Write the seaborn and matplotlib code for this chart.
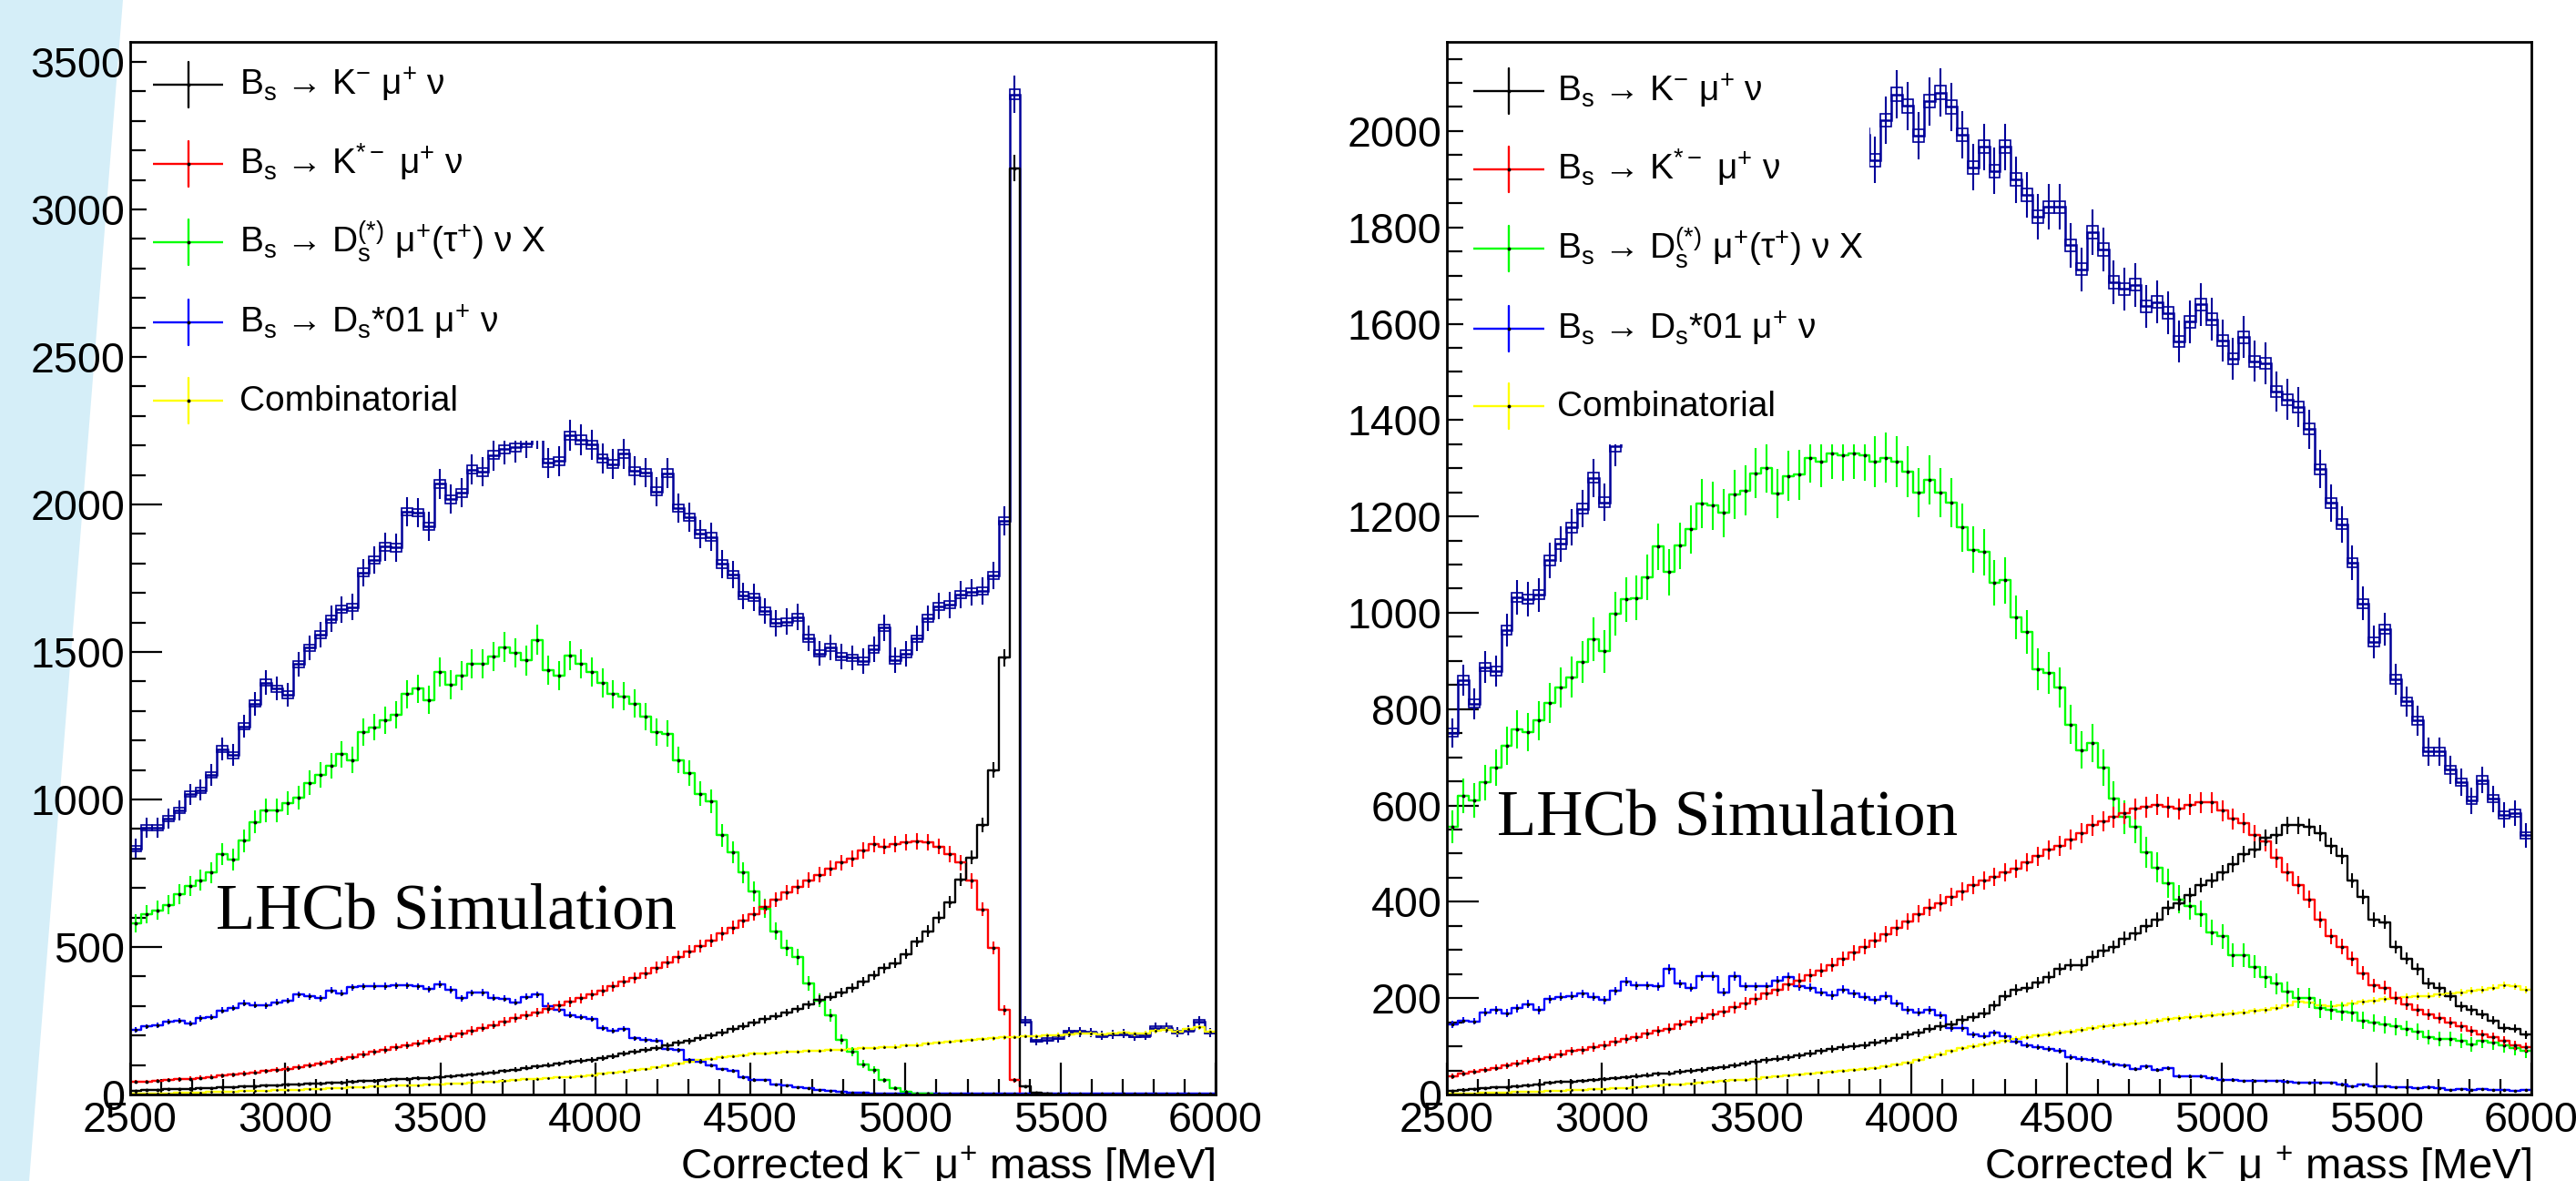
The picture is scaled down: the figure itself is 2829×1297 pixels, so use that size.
import numpy as np
import pandas as pd
import seaborn as sns
import matplotlib
matplotlib.use("Agg")
import matplotlib.pyplot as plt
from matplotlib.patches import Polygon, Rectangle
from matplotlib.ticker import MultipleLocator
from matplotlib.transforms import ScaledTranslation, blended_transform_factory

# ---------------------------------------------------------------- data
mass_edges = np.arange(2500, 6001, 35)          # 100 bins of 35 MeV
mass_centers = 0.5 * (mass_edges[:-1] + mass_edges[1:])

series_labels = [
    r"B$_{s}$ → K$^{-}$ μ$^{+}$ ν",
    r"B$_{s}$ → K$^{*-}$ μ$^{+}$ ν",
    r"B$_{s}$ → D$_{s}^{(*)}$ μ$^{+}$(τ$^{+}$) ν X",
    r"B$_{s}$ → D$_{s}$*01 μ$^{+}$ ν",
    "Combinatorial",
]

# ---- left panel
left_kmunu = [13, 15, 16, 17, 19, 20, 21, 22, 24, 25,
              27, 28, 30, 31, 33, 34, 36, 37, 39, 41,
              43, 45, 47, 49, 51, 53, 55, 57, 58, 61,
              64, 67, 72, 75, 80, 84, 90, 95, 100, 104,
              110, 114, 118, 124, 130, 138, 144, 152, 158, 166,
              175, 182, 192, 200, 210, 222, 232, 244, 255, 266,
              278, 290, 305, 321, 331, 345, 361, 382, 404, 428,
              446, 476, 517, 554, 600, 652, 727, 804, 913, 1100,
              1480, 3140, 28, 6, 3, 1, 1, 1, 0, 0,
              0, 0, 0, 0, 0, 0, 0, 0, 0, 0]
left_kstmunu = [42, 44, 46, 49, 51, 54, 57, 60, 64, 67,
                71, 75, 79, 83, 86, 92, 98, 105, 112, 120,
                128, 136, 144, 152, 160, 166, 174, 182, 188, 196,
                206, 216, 226, 236, 246, 258, 268, 278, 290, 302,
                314, 326, 338, 352, 366, 382, 396, 412, 430, 448,
                466, 484, 502, 522, 545, 566, 588, 612, 636, 660,
                684, 704, 726, 745, 766, 786, 800, 828, 848, 841,
                848, 855, 859, 855, 841, 814, 786, 724, 628, 497,
                286, 48, 0, 0, 0, 0, 0, 0, 0, 0,
                0, 0, 0, 0, 0, 0, 0, 0, 0, 0]
left_dsmunu = [580, 611, 624, 643, 680, 707, 726, 752, 815, 796,
               860, 924, 962, 962, 987, 1006, 1057, 1083, 1115, 1153,
               1134, 1229, 1245, 1268, 1287, 1357, 1376, 1338, 1433, 1389,
               1420, 1459, 1459, 1484, 1516, 1497, 1471, 1541, 1439, 1420,
               1487, 1459, 1433, 1395, 1357, 1350, 1325, 1280, 1229, 1223,
               1134, 1089, 1019, 994, 879, 822, 752, 688, 631, 554,
               497, 465, 376, 318, 269, 186, 145, 103, 83, 48,
               21, 10, 4, 2, 1, 0, 0, 0, 0, 0,
               0, 0, 0, 0, 0, 0, 0, 0, 0, 0,
               0, 0, 0, 0, 0, 0, 0, 0, 0, 0]
left_ds01munu = [219, 230, 236, 248, 250, 242, 258, 263, 285, 293,
                 310, 303, 302, 312, 318, 338, 332, 327, 353, 344,
                 363, 366, 367, 368, 369, 369, 366, 357, 373, 355,
                 327, 345, 346, 328, 325, 312, 331, 338, 300, 287,
                 270, 262, 255, 225, 217, 223, 190, 185, 183, 155,
                 150, 118, 110, 100, 85, 80, 60, 50, 48, 35,
                 32, 24, 22, 16, 12, 8, 6, 5, 4, 4,
                 3, 3, 3, 2, 2, 2, 2, 2, 2, 2,
                 2, 2, 2, 2, 2, 2, 2, 2, 2, 2,
                 2, 2, 2, 2, 2, 2, 2, 2, 2, 2]
left_comb = [2, 3, 3, 4, 5, 6, 7, 8, 9, 10,
             11, 12, 13, 14, 15, 16, 18, 19, 21, 22,
             24, 25, 27, 28, 30, 31, 32, 33, 34, 36,
             38, 40, 42, 44, 46, 48, 51, 54, 56, 58,
             60, 63, 66, 70, 74, 78, 82, 86, 92, 98,
             104, 110, 116, 120, 126, 130, 134, 138, 140, 142,
             144, 146, 148, 148, 150, 152, 154, 156, 158, 160,
             162, 166, 168, 172, 175, 178, 182, 185, 188, 190,
             193, 195, 198, 196, 200, 202, 205, 208, 206, 204,
             207, 210, 206, 208, 215, 220, 212, 222, 228, 214]
left_total = [834, 904, 904, 936, 962, 1018, 1032, 1083, 1171, 1150,
              1248, 1325, 1396, 1376, 1355, 1459, 1514, 1559, 1612, 1644,
              1652, 1770, 1811, 1857, 1854, 1975, 1972, 1926, 2070, 2018,
              2039, 2118, 2111, 2167, 2188, 2193, 2208, 2240, 2142, 2147,
              2234, 2219, 2203, 2157, 2137, 2172, 2114, 2108, 2044, 2106,
              1988, 1957, 1900, 1890, 1798, 1762, 1690, 1685, 1639, 1598,
              1603, 1618, 1546, 1495, 1515, 1485, 1480, 1469, 1510, 1582,
              1472, 1494, 1545, 1614, 1655, 1660, 1695, 1703, 1707, 1760,
              1945, 3390, 248, 182, 186, 192, 212, 212, 210, 200,
              204, 206, 198, 200, 226, 226, 212, 218, 248, 210]

# ---- right panel
right_kmunu = [7, 10, 11, 13, 15, 15, 17, 19, 21, 24,
               26, 27, 28, 30, 32, 34, 36, 38, 40, 43,
               44, 47, 49, 51, 54, 57, 60, 64, 68, 71,
               74, 77, 81, 85, 90, 94, 98, 101, 102, 107,
               111, 118, 124, 128, 137, 142, 145, 155, 160, 169,
               185, 205, 218, 222, 232, 243, 260, 269, 269, 286,
               299, 307, 324, 334, 350, 363, 388, 397, 414, 435,
               444, 461, 478, 499, 508, 533, 538, 559, 559, 555,
               542, 516, 495, 444, 410, 363, 358, 307, 282, 260,
               230, 222, 205, 183, 175, 166, 154, 138, 137, 124]
right_kstmunu = [38, 43, 47, 51, 55, 60, 64, 70, 74, 78,
                 84, 90, 92, 98, 102, 109, 115, 119, 126, 132,
                 137, 145, 152, 158, 166, 172, 181, 189, 198, 209,
                 218, 229, 237, 247, 258, 269, 282, 294, 307, 320,
                 333, 346, 360, 375, 388, 397, 410, 422, 435, 444,
                 452, 461, 469, 482, 495, 508, 516, 529, 542, 559,
                 567, 576, 584, 593, 597, 602, 597, 593, 602, 606,
                 606, 589, 572, 563, 538, 525, 491, 461, 435, 405,
                 363, 328, 307, 282, 252, 226, 222, 200, 188, 175,
                 166, 158, 149, 141, 132, 124, 119, 111, 102, 98]
right_dsmunu = [555, 620, 610, 648, 678, 724, 758, 753, 776, 813,
                845, 866, 898, 945, 920, 998, 1028, 1031, 1073, 1137,
                1084, 1139, 1173, 1227, 1222, 1207, 1246, 1254, 1290, 1301,
                1247, 1284, 1287, 1322, 1314, 1331, 1327, 1331, 1327, 1314,
                1322, 1314, 1293, 1250, 1276, 1250, 1229, 1177, 1131, 1126,
                1062, 1067, 990, 960, 883, 875, 845, 768, 715, 730,
                678, 614, 576, 555, 503, 471, 439, 405, 392, 375,
                337, 328, 290, 290, 265, 243, 230, 213, 200, 200,
                179, 175, 172, 171, 154, 149, 145, 141, 137, 130,
                119, 115, 115, 111, 104, 111, 107, 102, 96, 90]
right_ds01munu = [145, 154, 152, 171, 175, 169, 179, 188, 175, 198,
                  203, 205, 209, 203, 196, 215, 235, 226, 226, 224,
                  260, 230, 222, 246, 246, 212, 246, 224, 224, 224,
                  237, 243, 224, 222, 212, 206, 218, 209, 203, 196,
                  205, 189, 175, 171, 175, 164, 138, 138, 124, 121,
                  128, 121, 110, 102, 98, 94, 90, 77, 74, 72,
                  68, 62, 60, 53, 58, 51, 55, 38, 38, 38,
                  34, 30, 30, 28, 28, 28, 28, 27, 24, 24,
                  24, 24, 21, 17, 20, 17, 17, 15, 15, 13,
                  16, 13, 10, 12, 9, 12, 9, 10, 7, 10]
right_comb = [1, 2, 2, 3, 3, 4, 5, 6, 6, 7,
              8, 9, 10, 11, 12, 13, 14, 15, 17, 18,
              20, 21, 23, 25, 26, 28, 30, 31, 33, 35,
              37, 39, 41, 43, 45, 47, 49, 51, 53, 55,
              58, 62, 66, 72, 78, 84, 90, 96, 100, 104,
              108, 112, 116, 119, 122, 125, 128, 130, 134, 138,
              141, 143, 146, 148, 150, 153, 156, 158, 161, 163,
              165, 167, 169, 171, 173, 175, 180, 186, 192, 190,
              186, 183, 186, 189, 192, 195, 198, 200, 202, 204,
              205, 207, 209, 212, 215, 218, 222, 226, 224, 218]
nan = float("nan")
# nan = bins hidden behind the legend box in the picture (filled below
# with the sum of the components, which the total is)
right_total = [751, 860, 811, 887, 879, 964, 1032, 1028, 1037, 1109,
               1143, 1177, 1216, 1280, 1229, 1345, nan, nan, nan, nan,
               nan, nan, nan, nan, nan, nan, nan, nan, nan, nan,
               nan, nan, nan, nan, nan, nan, nan, nan, nan, 1940,
               2022, 2076, 2052, 1990, 2062, 2080, 2050, 1992, 1925, 1967,
               1917, 1967, 1899, 1867, 1822, 1842, 1842, 1763, 1713, 1790,
               1754, 1686, 1672, 1681, 1636, 1645, 1622, 1563, 1604, 1640,
               1609, 1565, 1527, 1572, 1522, 1518, 1459, 1443, 1427, 1381,
               1298, 1228, 1184, 1104, 1019, 940, 966, 862, 816, 776,
               712, 712, 674, 648, 610, 653, 614, 580, 584, 538]

# ---------------------------------------------------------------- style
W, H = 2829, 1297
NAVY = "#000099"
series_colors = ["black", "#ff0000", "#00ff00", "#0000ff", "#ffff00"]
err_scale_left = [0.8, 0.95, 1.3, 0.6, 0.5]
err_scale_right = [0.75, 0.9, 1.45, 0.6, 0.5]
marker_size = [1.8, 1.8, 1.8, 1.6, 1.0]

sns.set_theme(style="white")
plt.rcParams["font.family"] = ["Liberation Sans", "DejaVu Sans"]
plt.rcParams["mathtext.fontset"] = "custom"
plt.rcParams["mathtext.rm"] = "Liberation Sans"
plt.rcParams["mathtext.it"] = "Liberation Sans"
plt.rcParams["mathtext.bf"] = "Liberation Sans:bold"
plt.rcParams["mathtext.sf"] = "Liberation Sans"

fig = plt.figure(figsize=(W / 100, H / 100), dpi=100)
fig.patch.set_facecolor("white")

# slide decoration band on the far left
fig.add_artist(Polygon([(0, 1), (135 / W, 1), (32 / W, 0), (0, 0)],
                       closed=True, transform=fig.transFigure,
                       facecolor="#d5eef8", edgecolor="none", zorder=0))

ax_top, ax_bot = 46, 1202
axL = fig.add_axes([143 / W, (H - ax_bot) / H, 1192 / W, (ax_bot - ax_top) / H])
axR = fig.add_axes([1589 / W, (H - ax_bot) / H, 1191 / W, (ax_bot - ax_top) / H])


def draw_panel(ax, comps, total, err_scale, ymax, ymajor, yminor,
               xlabel, lhcb_xy, leg_x, leg_rows, leg_box):
    t = np.array(total, dtype=float)
    comp_sum = np.sum(np.array(comps, dtype=float), axis=0)
    t = np.where(np.isnan(t), comp_sum, t)
    # stacked total: step outline, unfilled error boxes and error bars
    ax.stairs(t, mass_edges, baseline=None, color=NAVY, lw=1.8, zorder=2)
    eb = 0.3 * np.sqrt(t)
    ax.bar(mass_centers, 2 * eb, bottom=t - eb, width=35,
           fill=False, edgecolor=NAVY, linewidth=1.2, zorder=2)
    ax.errorbar(mass_centers, t, yerr=1.1 * np.sqrt(t),
                fmt="none", ecolor=NAVY, elinewidth=1.5, zorder=2)

    for i in [4, 3, 2, 1, 0]:
        v = np.array(comps[i], dtype=float)
        c = series_colors[i]
        df = pd.DataFrame({"mass": mass_centers, "w": v})
        sns.histplot(data=df, x="mass", weights="w",
                     bins=[float(e) for e in mass_edges],
                     element="step", fill=False, color=c, linewidth=1.7,
                     ax=ax, zorder=3 + (4 - i) * 0.1)
        nz = v > 0
        ax.errorbar(mass_centers[nz], v[nz],
                    yerr=err_scale[i] * np.sqrt(v[nz]), xerr=17.5,
                    fmt="o", ms=marker_size[i], mfc="black", mec="black",
                    ecolor=c, elinewidth=1.5, zorder=4 + (4 - i) * 0.1)

    ax.set_xlim(2500, 6000)
    ax.set_ylim(0, ymax)
    ax.set_xlabel("")
    ax.set_ylabel("")
    ax.xaxis.set_major_locator(MultipleLocator(500))
    ax.xaxis.set_minor_locator(MultipleLocator(100))
    ax.yaxis.set_major_locator(MultipleLocator(ymajor))
    ax.yaxis.set_minor_locator(MultipleLocator(yminor))
    ax.tick_params(axis="both", which="both", direction="in",
                   top=False, right=False, bottom=True, left=True,
                   colors="black")
    ax.tick_params(axis="both", which="major", length=25, width=1.6,
                   labelsize=33.5)
    ax.tick_params(axis="both", which="minor", length=12, width=1.6)
    ax.tick_params(axis="x", which="major", pad=5)
    ax.tick_params(axis="y", which="major", pad=4)
    for sp in ax.spines.values():
        sp.set_visible(True)
        sp.set_color("black")
        sp.set_linewidth(2.0)
        sp.set_zorder(10)
    ax.set_facecolor("white")

    ax.text(1.0, -0.0804, xlabel, transform=ax.transAxes, ha="right",
            va="baseline", fontsize=34, color="black")
    ax.text(lhcb_xy[0], lhcb_xy[1], "LHCb Simulation", transform=ax.transData,
            ha="left", va="baseline", fontsize=51,
            family=["Liberation Serif", "DejaVu Serif"], color="black",
            zorder=6)

    # legend (ROOT TLegend): white box hiding what lies beneath it
    bx0, bx1, by0 = leg_box
    trans = blended_transform_factory(ax.transAxes, ax.transData)
    ax.add_patch(Rectangle((bx0, by0), bx1 - bx0, ymax - by0,
                           transform=trans, facecolor="white",
                           edgecolor="none", zorder=6.5))
    x0, x1, xt = leg_x
    xc = 0.5 * (x0 + x1)
    off = ScaledTranslation(0, -0.11, fig.dpi_scale_trans)
    for lab, c, yrow in zip(series_labels, series_colors, leg_rows):
        ax.plot([x0, x1], [yrow, yrow], transform=ax.transAxes, color=c,
                lw=1.7, solid_capstyle="butt", zorder=7)
        ax.plot([xc, xc], [yrow - 0.022, yrow + 0.022],
                transform=ax.transAxes, color=c, lw=1.7, zorder=7)
        ax.plot([xc], [yrow], "o", ms=1.8, color="black",
                transform=ax.transAxes, zorder=8)
        ax.text(xt, yrow, lab, transform=ax.transAxes + off, ha="left",
                va="baseline", fontsize=28, color="black", zorder=8)


draw_panel(axL,
           [left_kmunu, left_kstmunu, left_dsmunu, left_ds01munu, left_comb],
           left_total, err_scale_left, 3568, 500, 100,
           r"Corrected k$^{-}$ μ$^{+}$ mass [MeV]", (2775, 560),
           (0.021, 0.0856, 0.1007),
           [0.9593, 0.8841, 0.8097, 0.7336, 0.6592],
           (0.0151, 0.3876, 2215))
draw_panel(axR,
           [right_kmunu, right_kstmunu, right_dsmunu, right_ds01munu, right_comb],
           right_total, err_scale_right, 2185, 200, 50,
           r"Corrected k$^{-}$ μ $^{+}$ mass [MeV]", (2663, 537),
           (0.0243, 0.0898, 0.1016),
           [0.9533, 0.8789, 0.8036, 0.7275, 0.654],
           (0.0151, 0.3896, 1350))

fig.savefig("out.png", dpi=100, facecolor="white")
